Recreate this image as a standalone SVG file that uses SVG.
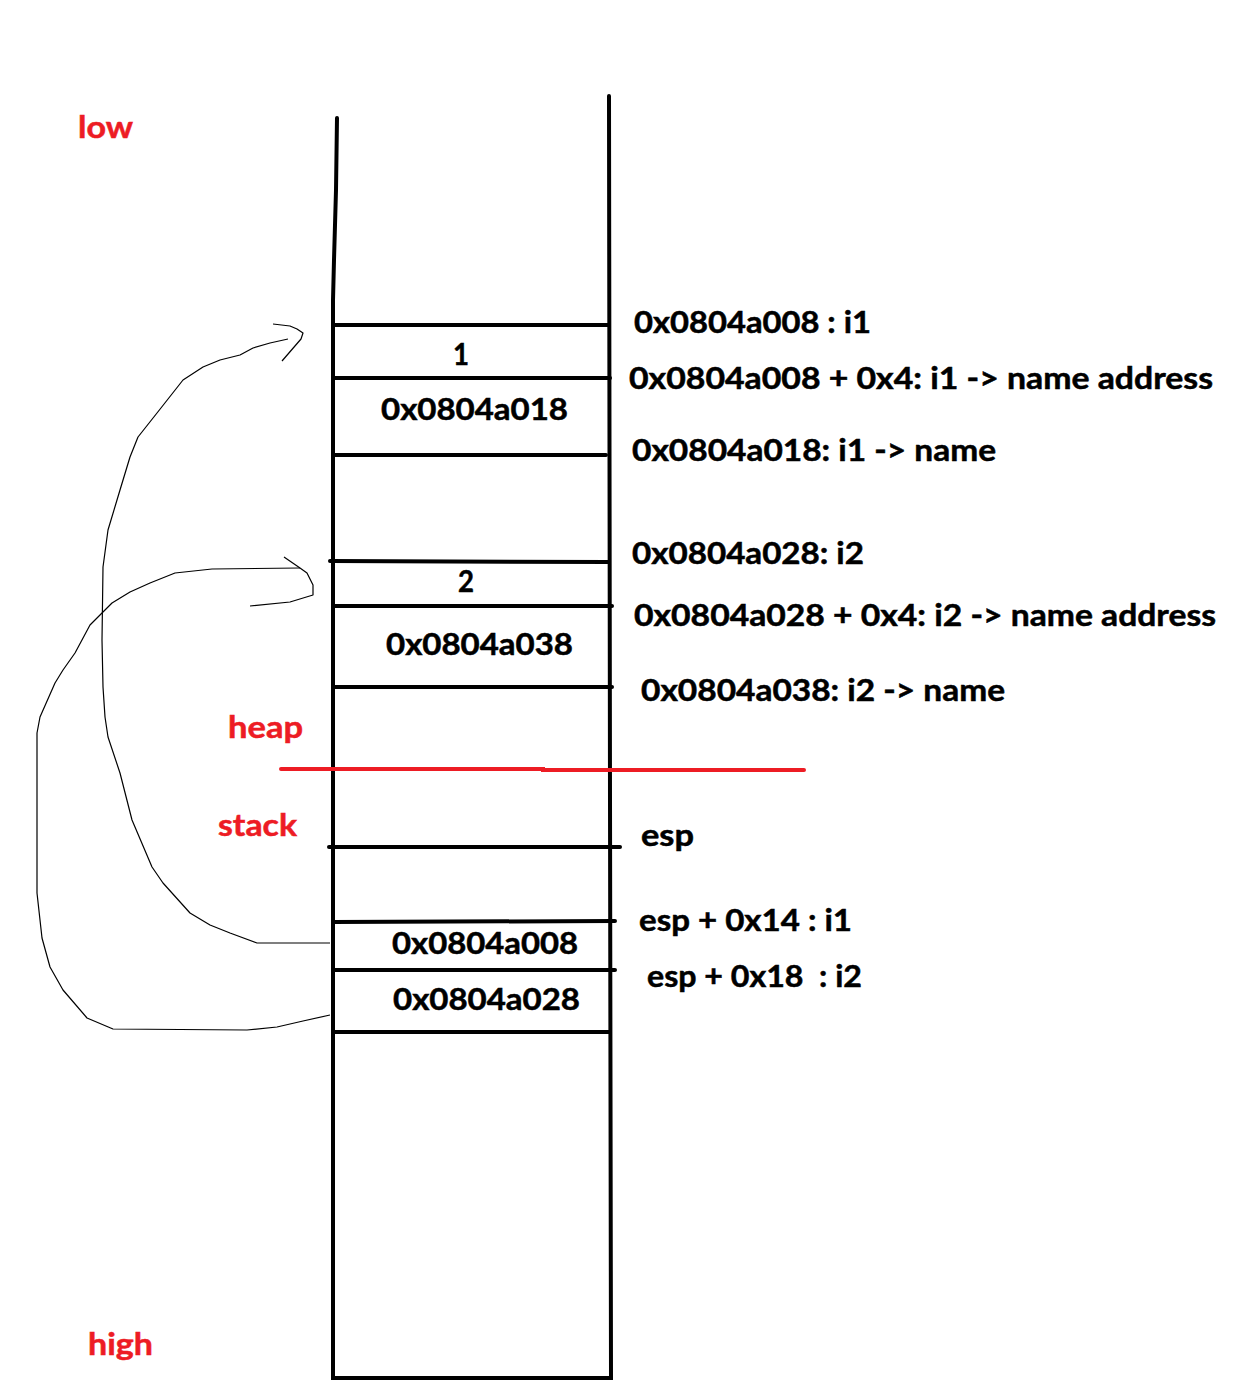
<svg xmlns="http://www.w3.org/2000/svg" width="1244" height="1400" viewBox="0 0 1244 1400">
<style>
.col{stroke:#000;stroke-width:4;fill:none;stroke-linecap:round}
.red{stroke:#ED1C24;stroke-width:4;fill:none;stroke-linecap:round}
.cur{stroke:#000;stroke-width:1.2;fill:none;stroke-linejoin:round}
text{font-family:Lato,"Open Sans","Liberation Sans",sans-serif;font-weight:bold;font-size:30px;white-space:pre}
.t{fill:#000;stroke:#000;stroke-width:0.5}
.r{fill:#ED1C24;stroke:#ED1C24;stroke-width:0.5}
</style>
<rect width="1244" height="1400" fill="#fff"/>
<g id="memory-column">
<path class="col" d="M337,118 L336,190 L334,260 L333,300 L333,1378 L611,1378 L610,800 L609,96"/>
<line class="col" x1="333" y1="325" x2="609" y2="325"/>
<line class="col" x1="333" y1="378" x2="610" y2="378"/>
<line class="col" x1="333" y1="455" x2="606" y2="455"/>
<line class="col" x1="330" y1="561" x2="609" y2="562"/>
<line class="col" x1="333" y1="606" x2="612" y2="606"/>
<line class="col" x1="333" y1="687" x2="612" y2="687"/>
<line class="col" x1="329" y1="847" x2="620" y2="847"/>
<line class="col" x1="333" y1="922" x2="615" y2="921"/>
<line class="col" x1="333" y1="970" x2="615" y2="970"/>
<line class="col" x1="333" y1="1032" x2="610" y2="1032"/>
</g>
<g id="divider">
<path class="red" d="M281,769 L543,769 L543,770 L804,770"/>
</g>
<g id="labels-red">
<text class="r" x="78" y="138" textLength="55" lengthAdjust="spacingAndGlyphs">low</text>
<text class="r" x="88" y="1355" textLength="65" lengthAdjust="spacingAndGlyphs">high</text>
<text class="r" x="228" y="738" textLength="75" lengthAdjust="spacingAndGlyphs">heap</text>
<text class="r" x="218" y="836" textLength="79" lengthAdjust="spacingAndGlyphs">stack</text>
</g>
<g id="cells">
<text class="t" x="453" y="365" textLength="16" lengthAdjust="spacingAndGlyphs">1</text>
<text class="t" x="381" y="420" textLength="187" lengthAdjust="spacingAndGlyphs">0x0804a018</text>
<text class="t" x="458" y="592" textLength="16" lengthAdjust="spacingAndGlyphs">2</text>
<text class="t" x="386" y="655" textLength="187" lengthAdjust="spacingAndGlyphs">0x0804a038</text>
<text class="t" x="392" y="954" textLength="186" lengthAdjust="spacingAndGlyphs">0x0804a008</text>
<text class="t" x="393" y="1010" textLength="187" lengthAdjust="spacingAndGlyphs">0x0804a028</text>
</g>
<g id="addresses">
<text class="t" x="634" y="333" textLength="237" lengthAdjust="spacingAndGlyphs">0x0804a008 : i1</text>
<text class="t" x="629" y="389" textLength="584" lengthAdjust="spacingAndGlyphs">0x0804a008 + 0x4: i1 -&gt; name address</text>
<text class="t" x="632" y="461" textLength="364" lengthAdjust="spacingAndGlyphs">0x0804a018: i1 -&gt; name</text>
<text class="t" x="632" y="564" textLength="232" lengthAdjust="spacingAndGlyphs">0x0804a028: i2</text>
<text class="t" x="634" y="626" textLength="582" lengthAdjust="spacingAndGlyphs">0x0804a028 + 0x4: i2 -&gt; name address</text>
<text class="t" x="641" y="701" textLength="364" lengthAdjust="spacingAndGlyphs">0x0804a038: i2 -&gt; name</text>
<text class="t" x="641" y="846" textLength="53" lengthAdjust="spacingAndGlyphs">esp</text>
<text class="t" x="639" y="931" textLength="213" lengthAdjust="spacingAndGlyphs">esp + 0x14 : i1</text>
<text class="t" x="647" y="987" textLength="215" lengthAdjust="spacingAndGlyphs">esp + 0x18  : i2</text>
</g>
<g id="connectors">
<path class="cur" d="M330,943 L257,943 L230,933 L210,925 L190,913 L163,883 L152,867 L132,820 L120,773 L108,737 L105,717 L103,687 L102,640 L103,567 L108,530 L120,490 L130,457 L138,437 L157,413 L183,380 L203,367 L220,360 L240,355 L253,348 L270,343 L288,339"/>
<path class="cur" d="M273,324 L290,326 L297,329 L303,333 L301,339 L282,361"/>
<path class="cur" d="M330,1015 L303,1021 L277,1027 L247,1030 L113,1029 L87,1018 L63,990 L50,967 L42,938 L37,893 L37,733 L40,717 L55,683 L63,670 L75,653 L90,625 L112,603 L130,592 L150,583 L175,573 L212,569 L300,568"/>
<path class="cur" d="M284,557 L300,568 L307,573 L313,585 L313,595 L290,602 L250,606"/>
</g>
</svg>
